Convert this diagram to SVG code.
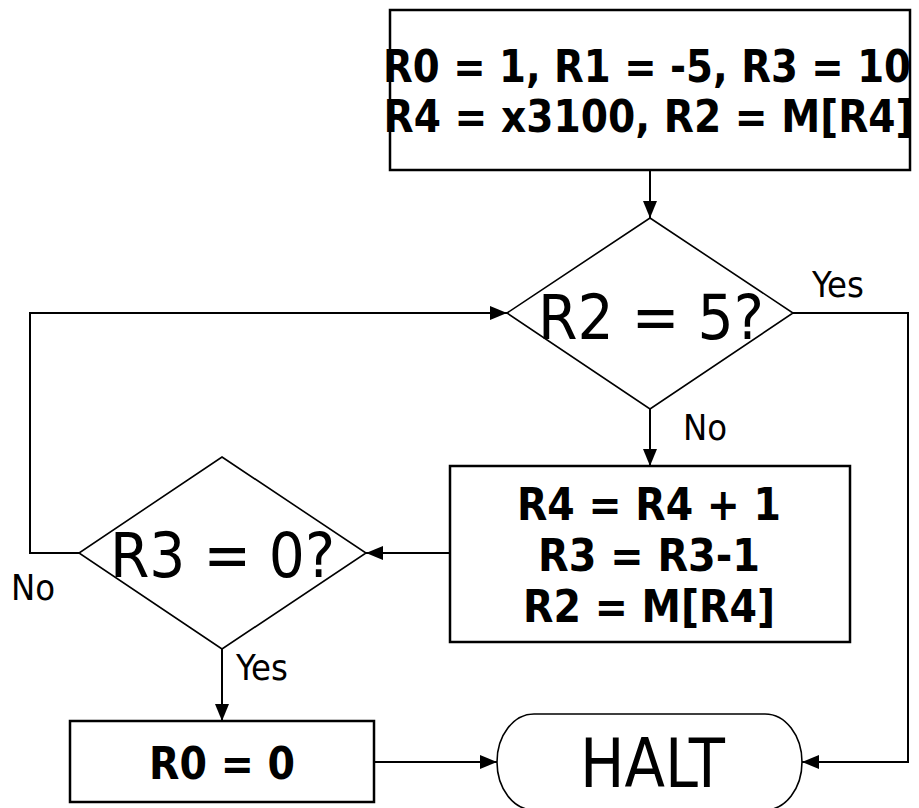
<svg xmlns="http://www.w3.org/2000/svg" width="919" height="808" viewBox="0 0 919 808">
<style>
  .box { fill: #fff; stroke: #000; stroke-width: 2.5; }
  .dia { fill: #fff; stroke: #000; stroke-width: 1.6; }
  .con { fill: none; stroke: #000; stroke-width: 2; }
  .b { font-family: "DejaVu Sans Condensed", "DejaVu Sans", sans-serif; font-stretch: condensed; font-weight: bold; font-size: 44px; fill: #000; text-anchor: middle; }
  .big { font-family: "DejaVu Sans Condensed", "DejaVu Sans", sans-serif; font-stretch: condensed; font-size: 63px; fill: #000; text-anchor: middle; }
  .lbl { font-family: "DejaVu Sans Condensed", "DejaVu Sans", sans-serif; font-stretch: condensed; font-size: 36px; fill: #000; }
</style>
<defs>
  <marker id="arr" markerUnits="userSpaceOnUse" markerWidth="18" markerHeight="14" refX="17" refY="7" orient="auto">
    <path d="M0,0 L17,7 L0,14 z" fill="#000"/>
  </marker>
</defs>
<rect width="919" height="808" fill="#fff"/>
<g id="connectors">
  <line class="con" x1="650" y1="170" x2="650" y2="218" marker-end="url(#arr)"/>
  <line class="con" x1="650" y1="409" x2="650" y2="466" marker-end="url(#arr)"/>
  <polyline class="con" points="793,313 908,313 908,762 802,762" marker-end="url(#arr)"/>
  <line class="con" x1="450" y1="553" x2="366" y2="553" marker-end="url(#arr)"/>
  <polyline class="con" points="79,553 30,553 30,313 507,313" marker-end="url(#arr)"/>
  <line class="con" x1="222" y1="649" x2="222" y2="721" marker-end="url(#arr)"/>
  <line class="con" x1="374" y1="762" x2="497" y2="762" marker-end="url(#arr)"/>
  <text class="lbl" x="812" y="297">Yes</text>
  <text class="lbl" x="683" y="440">No</text>
  <text class="lbl" x="11" y="600">No</text>
  <text class="lbl" x="236" y="680">Yes</text>
</g>
<g id="init">
  <rect class="box" x="390" y="10" width="520" height="160"/>
  <text class="b" x="647" y="82" textLength="528" lengthAdjust="spacingAndGlyphs">R0 = 1, R1 = -5, R3 = 10</text>
  <text class="b" x="648.5" y="132" textLength="530" lengthAdjust="spacingAndGlyphs">R4 = x3100, R2 = M[R4]</text>
</g>
<g id="test-r2">
  <polygon class="dia" points="650,218 793,313 650,409 507,313"/>
  <text class="big" x="651" y="339" textLength="226" lengthAdjust="spacingAndGlyphs">R2 = 5?</text>
</g>
<g id="update">
  <rect class="box" x="450" y="466" width="400" height="176"/>
  <text class="b" x="649" y="520" textLength="264" lengthAdjust="spacingAndGlyphs">R4 = R4 + 1</text>
  <text class="b" x="649" y="571" textLength="222" lengthAdjust="spacingAndGlyphs">R3 = R3-1</text>
  <text class="b" x="649" y="622" textLength="252" lengthAdjust="spacingAndGlyphs">R2 = M[R4]</text>
</g>
<g id="test-r3">
  <polygon class="dia" points="222,457 366,553 222,649 79,553"/>
  <text class="big" x="222.5" y="577" textLength="225" lengthAdjust="spacingAndGlyphs">R3 = 0?</text>
</g>
<g id="set-r0">
  <rect class="box" x="70" y="721" width="304" height="81"/>
  <text class="b" x="222" y="779" textLength="146" lengthAdjust="spacingAndGlyphs">R0 = 0</text>
</g>
<g id="halt">
  <path class="dia" d="M534,714 L765,714 A37,48 0 0 1 765,810 L534,810 A37,48 0 0 1 534,714 Z"/>
  <text class="big" x="652.5" y="787" textLength="145" lengthAdjust="spacingAndGlyphs" style="font-size:67px">HALT</text>
</g>
</svg>
